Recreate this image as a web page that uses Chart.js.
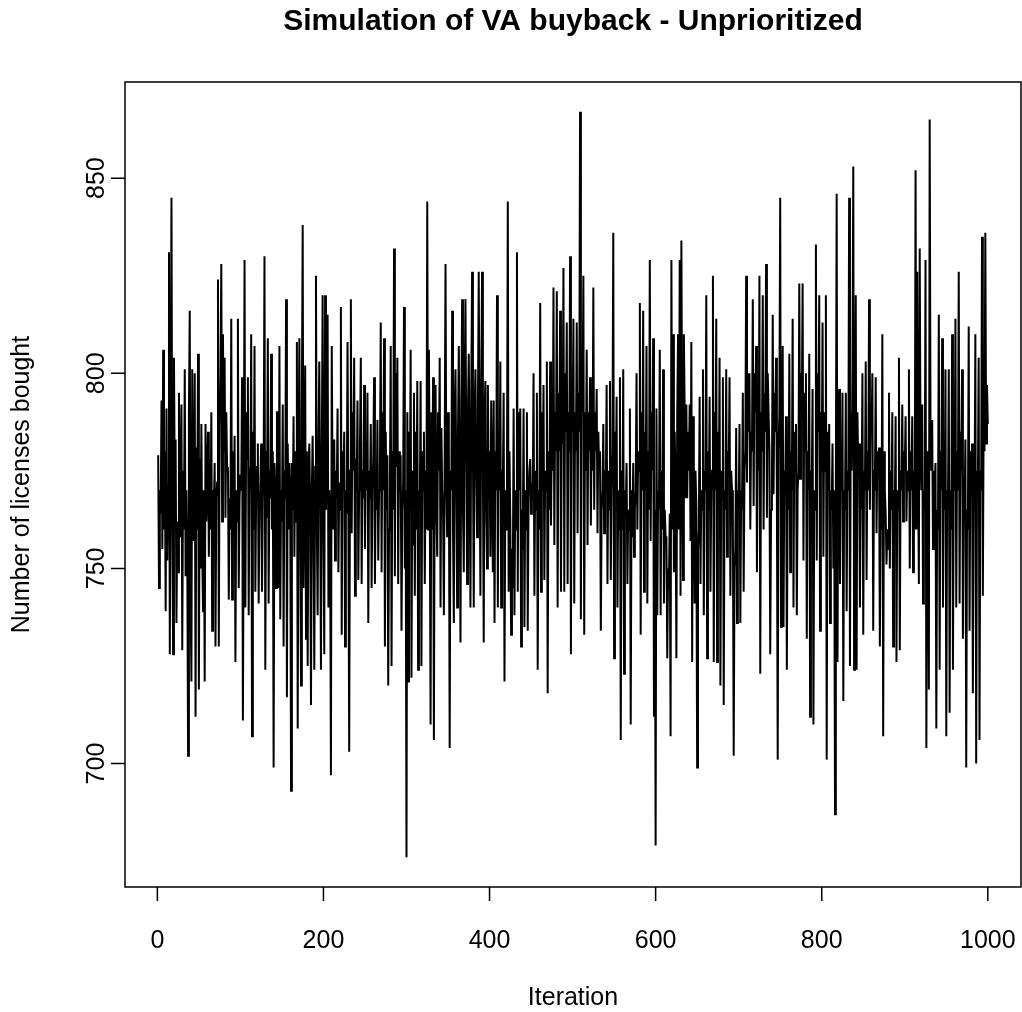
<!DOCTYPE html>
<html lang="en">
<head>
    <meta charset="UTF-8">
    <title>Simulation of VA buyback - Unprioritized</title>
    <script src="https://cdn.jsdelivr.net/npm/chart.js"></script>
    <style>
        body {
            margin: 0;
            background: #ffffff;
        }
        canvas {
            display: block;
        }
    </style>
</head>
<body>
    <canvas id="buybackChart" width="1022" height="1012"></canvas>

    <script>
        // Licenses bought per iteration
        const licenses = [
            779,745,770,764, 793,755,806,760, 780,739,791,752, 771,831,728,785, 845,760,728,804,
            770,783,736,762, 749,795,768,758, 792,729,775,760, 801,748,770,756, 702,790,816,745,
            721,801,765,757, 800,712,781,760, 805,719,778,750, 787,755,739,770, 721,787,762,771,
            785,753,778,760, 790,734,770,765, 777,730,768,772, 824,730,786,799, 828,762,810,780,
            804,763,790,775, 776,742,768,760, 814,742,780,766, 784,726,770,762, 814,745,768,774,

            770,799,711,765, 829,740,790,778, 799,738,776,770, 810,707,785,760, 807,744,770,776,
            782,741,765,771, 782,744,768,775, 830,724,780,763, 809,741,775,768, 805,760,780,699,
            777,770,745,790, 790,745,807,737, 770,762,792,730, 775,768,819,717, 782,760,777,770,
            693,777,765,789, 753,780,762,808, 709,775,809,760, 720,790,838,745, 770,802,732,780,
            725,775,782,765, 715,770,784,760, 724,776,825,762, 738,780,803,770, 724,778,820,760,

            728,820,765,775, 815,740,770,762, 697,807,770,760, 783,752,775,768, 791,749,772,765,
            817,733,780,770, 785,730,770,764, 808,765,703,775, 819,759,790,775, 804,743,778,770,
            793,747,770,782, 804,746,775,768, 797,755,780,770, 795,736,775,768, 787,745,770,778,
            799,746,772,765, 788,752,770,776, 813,749,790,770, 809,730,785,765, 779,720,760,770,
            807,725,780,765, 832,748,800,776, 804,746,780,770, 779,734,765,772, 817,750,770,676,

            790,721,785,765, 806,722,775,756, 795,743,785,760, 798,724,770,765, 798,725,780,770,
            785,746,775,760, 844,760,806,770, 710,790,760,799, 706,780,797,765, 753,790,775,804,
            740,786,770,765, 738,780,828,770, 758,790,781,704, 775,770,816,760, 736,790,801,770,
            740,785,807,770, 731,790,819,765, 749,795,819,780, 746,790,805,775, 740,795,826,780,
            740,790,801,775, 758,790,826,780, 743,795,826,776, 731,790,798,765, 750,797,770,780,

            753,793,770,749, 793,736,780,770, 820,740,785,770, 803,740,775,770, 795,721,770,760,
            775,844,744,780, 762,733,755,745, 791,738,770,760, 831,744,790,770, 791,730,765,755,
            791,735,770,760, 790,734,768,775, 778,764,772,768, 800,743,775,765, 795,724,770,760,
            818,744,790,770, 797,747,775,770, 803,718,780,765, 803,761,785,775, 822,756,790,780,
            821,740,795,780, 816,744,790,782, 827,744,800,785, 813,746,790,780, 830,728,795,785,

            814,741,790,780, 813,759,795,785, 867,737,800,790, 825,733,790,775, 806,756,790,780,
            799,761,785,775, 822,765,790,780, 796,759,785,775, 780,734,765,770, 787,759,775,770,
            797,746,775,765, 798,747,770,780, 836,727,785,770, 794,740,770,760, 799,706,775,760,
            801,723,770,765, 777,746,765,760, 791,710,770,758, 777,753,765,770, 800,760,780,775,
            818,733,790,770, 816,744,785,770, 807,741,780,765, 829,757,790,775, 809,712,765,679,

            791,738,770,765, 806,738,775,760, 801,741,765,758, 758,727,750,745, 764,707,829,760,
            810,749,785,770, 727,790,810,760, 829,743,834,780, 747,810,790,768, 792,768,785,775,
            792,757,808,726, 789,770,741,775, 766,699,755,760, 794,746,770,765, 801,738,775,770,
            820,727,780,765, 794,744,770,775, 825,726,790,770, 814,726,785,765, 804,720,775,768,
            799,715,770,765, 801,753,780,775, 799,743,775,770, 763,702,750,755, 786,736,770,765,

            787,736,770,765, 795,744,775,780, 825,772,800,785, 800,760,785,780, 819,766,800,790,
            807,749,785,775, 825,723,790,780, 820,760,795,785, 828,763,800,790, 780,728,765,770,
            815,769,795,785, 804,770,701,780, 790,845,735,780, 807,735,775,770, 789,724,770,765,
            805,749,780,770, 814,740,785,775, 787,738,770,775, 823,773,800,790, 823,752,795,780,
            800,732,780,770, 805,712,775,770, 796,710,770,765, 833,752,800,785, 820,734,790,775,

            813,753,790,775, 820,701,785,770, 787,736,770,765, 782,750,770,687, 770,846,726,785,
            796,746,775,770, 795,716,770,765, 795,739,775,770, 845,725,790,775, 800,853,724,785,
            820,724,790,775, 782,740,770,765, 800,733,775,770, 803,747,780,770, 819,765,790,785,
            800,734,775,770, 799,759,780,775, 781,730,765,760, 810,707,780,770, 764,751,760,755,
            795,750,775,765, 790,730,770,765, 789,726,770,765, 804,729,775,770, 792,762,780,775,

            789,762,775,770, 801,750,780,770, 789,749,775,760, 852,760,826,775, 746,832,780,770,
            792,741,770,765, 829,704,780,770, 719,865,785,775, 788,755,775,770, 777,709,765,760,
            815,724,780,770, 809,740,775,765, 801,707,770,765, 801,713,770,760, 810,724,775,770,
            814,740,780,770, 826,741,785,775, 801,732,770,765, 783,699,765,760, 812,734,780,770,
            782,718,770,765, 810,700,775,770, 804,706,775,770, 835,743,790,780, 836,782,797,787
        ];

        const xTicks = [0, 200, 400, 600, 800, 1000];
        const yTicks = [700, 750, 800, 850];

        const chartTitle = 'Simulation of VA buyback - Unprioritized';
        const xTitle = 'Iteration';
        const yTitle = 'Number of licenses bought';

        const points = licenses.map((v, i) => ({ x: i + 1, y: v }));

        // R pads each axis range by 4%
        const lo = Math.min(...licenses), hi = Math.max(...licenses);
        const yPad = (hi - lo) * 0.04;
        const xPad = (licenses.length - 1) * 0.04;

        const FONT = '"Liberation Sans", Arial, sans-serif';

        // box, ticks and labels drawn the way base R does it
        const rAxes = {
            id: 'rAxes',
            afterDraw(chart) {
                const { ctx, chartArea: a, scales: { x, y } } = chart;
                ctx.save();
                ctx.strokeStyle = '#000';
                ctx.fillStyle = '#000';
                ctx.lineWidth = 1.5;
                ctx.strokeRect(a.left, a.top, a.right - a.left, a.bottom - a.top);

                ctx.font = '25px ' + FONT;
                ctx.textAlign = 'center';
                ctx.textBaseline = 'middle';

                ctx.beginPath();
                xTicks.forEach(v => {
                    const px = x.getPixelForValue(v);
                    ctx.moveTo(px, a.bottom);
                    ctx.lineTo(px, a.bottom + 14);
                    ctx.fillText(String(v), px, a.bottom + 54);
                });
                yTicks.forEach(v => {
                    const py = y.getPixelForValue(v);
                    ctx.moveTo(a.left, py);
                    ctx.lineTo(a.left - 14, py);
                    ctx.save();
                    ctx.translate(a.left - 28, py);
                    ctx.rotate(-Math.PI / 2);
                    ctx.fillText(String(v), 0, 0);
                    ctx.restore();
                });
                ctx.stroke();

                ctx.fillText(xTitle, (a.left + a.right) / 2, a.bottom + 111);
                ctx.save();
                ctx.translate(a.left - 103, (a.top + a.bottom) / 2);
                ctx.rotate(-Math.PI / 2);
                ctx.fillText(yTitle, 0, 0);
                ctx.restore();

                ctx.font = 'bold 30px ' + FONT;
                ctx.fillText(chartTitle, (a.left + a.right) / 2, 22);
                ctx.restore();
            }
        };

        new Chart(document.getElementById('buybackChart'), {
            type: 'line',
            data: {
                datasets: [{
                    data: points,
                    borderColor: '#000',
                    borderWidth: 2,
                    pointRadius: 0,
                    tension: 0,
                    fill: false
                }]
            },
            options: {
                responsive: false,
                animation: false,
                layout: { padding: { left: 125, top: 82, right: 1, bottom: 125 } },
                plugins: {
                    legend: { display: false },
                    tooltip: { enabled: false }
                },
                scales: {
                    x: { type: 'linear', display: false, min: 1 - xPad, max: licenses.length + xPad },
                    y: { type: 'linear', display: false, min: lo - yPad, max: hi + yPad }
                }
            },
            plugins: [rAxes]
        });
    </script>
</body>
</html>
